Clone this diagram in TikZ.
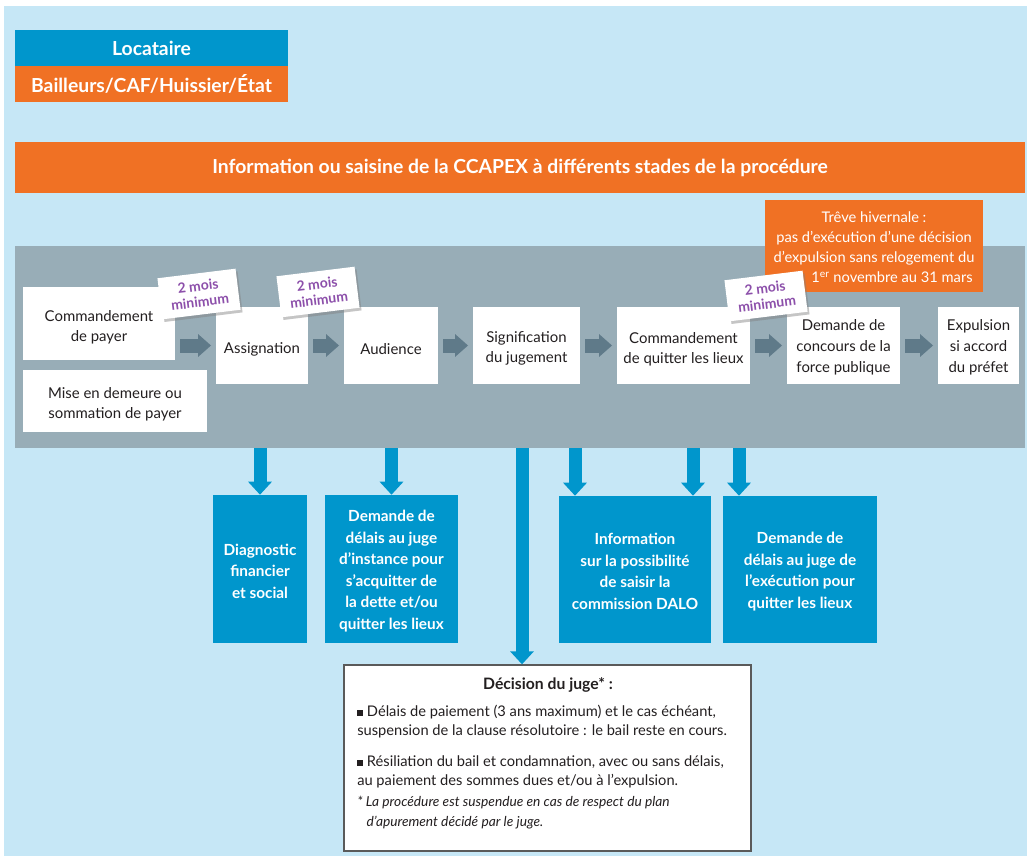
\documentclass[tikz,border=0pt]{standalone}
\usepackage{fontspec}
\setmainfont{Lato}
\usetikzlibrary{arrows.meta,fit,shadows}
\definecolor{bgblue}{HTML}{C6E7F6}
\definecolor{cblue}{HTML}{0096CC}
\definecolor{corange}{HTML}{F07124}
\definecolor{cgrey}{HTML}{98ADB7}
\definecolor{carrow}{HTML}{5F7A89}
\definecolor{cpurple}{HTML}{8C4FAA}
\definecolor{ctext}{HTML}{231F20}
\definecolor{cborder}{HTML}{5A5A5A}
\newcommand\sqbul{\rule[0.1ex]{0.8ex}{0.8ex}}
\begin{document}
\begin{tikzpicture}[x=0.75pt,y=-0.75pt,
  shape box/.style={inner sep=0pt},
  wtext/.style={inner sep=0pt, align=center, text=ctext, font=\fontsize{11.2}{15}\selectfont},
  btext/.style={inner sep=0pt, align=center, text=white, font=\bfseries\fontsize{11.5}{16.2}\selectfont},
  htext/.style={inner sep=0pt, text=white, font=\bfseries\fontsize{14.5}{14.5}\selectfont},
  garrow/.style={draw=carrow, line width=10.5pt, -{Triangle[width=16.5pt,length=9.75pt]}, shorten <=3.75pt, shorten >=3.5pt},
  barrow/.style={draw=cblue, line width=9.75pt, -{Triangle[width=17.25pt,length=9.75pt]}},
  tagbox/.style={fill=white, rotate=7, minimum width=59pt, minimum height=31pt, inner sep=0pt, align=center, text=cpurple, font=\bfseries\fontsize{10.5}{12}\selectfont, drop shadow={shadow xshift=1.5pt, shadow yshift=-2pt, opacity=0.45}},
  dtext/.style={inner sep=0pt, anchor=west, align=left, text=ctext}]
\useasboundingbox (0,0) rectangle (1027,856);
\fill[white] (0,0) rectangle (1027,856);
\fill[bgblue] (4,6) rectangle (1027,856);

% legend
\node[shape box, fill=cblue, fit={(15,30)(288,66)}] (loc) {};
\node[htext] (loc-t) at (loc.center) {Locataire};
\node[shape box, fill=corange, fit={(15,66)(288,102)}] (bail) {};
\node[htext] (bail-t) at (bail.center) {Bailleurs/CAF/Huissier/État};

% banner
\node[shape box, fill=corange, fit={(15,142)(1025,193)}] (banner) {};
\node[htext] (banner-t) at ([yshift=-0.5pt]banner.center) {Information ou saisine de la CCAPEX à différents stades de la procédure};

% grey band
\node[shape box, fill=cgrey, fit={(15,246)(1025,448)}] (band) {};

% treve
\node[shape box, fill=corange, fit={(765,200)(983,292)}] (treve) {};
\node[inner sep=0pt, align=center, text=white, font=\fontsize{11}{15}\selectfont] (treve-t) at ([yshift=-1pt]treve.center) {Trêve hivernale :\\pas d’exécution d’une décision\\d’expulsion sans relogement du\\\hspace*{27pt}1\textsuperscript{er} novembre au 31 mars};

% white boxes
\node[shape box, fill=white, fit={(23,287)(175,360)}] (cmdpay) {};
\node[wtext] (cmdpay-t) at ([yshift=-2.5pt]cmdpay.center) {Commandement\\de payer};
\node[shape box, fill=white, fit={(23,370)(207,432)}] (mise) {};
\node[wtext] (mise-t) at ([yshift=-2.5pt]mise.center) {Mise en demeure ou\\sommation de payer};
\node[shape box, fill=white, fit={(216,307)(308,384)}] (assign) {};
\node[wtext] (assign-t) at ([yshift=-3pt]assign.center) {Assignation};
\node[shape box, fill=white, fit={(344,307)(438,384)}] (aud) {};
\node[wtext] (aud-t) at ([yshift=-3pt]aud.center) {Audience};
\node[shape box, fill=white, fit={(473,307)(580,384)}] (sig) {};
\node[wtext] (sig-t) at ([yshift=-2.5pt]sig.center) {Signification\\du jugement};
\node[shape box, fill=white, fit={(617,307)(750,384)}] (cmdq) {};
\node[wtext] (cmdq-t) at ([yshift=-2.5pt]cmdq.center) {Commandement\\de quitter les lieux};
\node[shape box, fill=white, fit={(787,307)(900,384)}] (conc) {};
\node[wtext, font=\fontsize{11.2}{15.75}\selectfont] (conc-t) at ([yshift=-1.5pt]conc.center) {Demande de\\concours de la\\force publique};
\node[shape box, fill=white, fit={(938,307)(1019,384)}] (expu) {};
\node[wtext, font=\fontsize{11.2}{15.75}\selectfont] (expu-t) at ([yshift=-1.5pt]expu.center) {Expulsion\\si accord\\du préfet};

% grey arrows
\draw[garrow] (cmdpay.east |- assign.west) -- (assign.west);
\draw[garrow] (assign) -- (aud);
\draw[garrow] (aud) -- (sig);
\draw[garrow] (sig) -- (cmdq);
\draw[garrow] (cmdq) -- (conc);
\draw[garrow] (conc) -- (expu);

% blue boxes
\node[shape box, fill=cblue, fit={(213,495)(307,643)}] (diag) {};
\node[btext] (diag-t) at ([yshift=-1.5pt]diag.center) {Diagnostic\\financier\\et social};
\node[shape box, fill=cblue, fit={(325,495)(458,643)}] (delai) {};
\node[btext] (delai-t) at ([yshift=-1.5pt]delai.center) {Demande de\\délais au juge\\d’instance pour\\s’acquitter de\\la dette et/ou\\quitter les lieux};
\node[shape box, fill=cblue, fit={(559,496)(711,643)}] (info) {};
\node[btext] (info-t) at ([yshift=-1.5pt]info.center) {Information\\sur la possibilité\\de saisir la\\commission DALO};
\node[shape box, fill=cblue, fit={(723,496)(877,643)}] (delexec) {};
\node[btext] (delexec-t) at ([yshift=-1.5pt]delexec.center) {Demande de\\délais au juge de\\l’exécution pour\\quitter les lieux};

% decision box
\node[shape box, fill=white, draw=cborder, line width=1pt, fit={(344,665)(751,851)}] (dec) {};
\node[inner sep=0pt, text=ctext, font=\bfseries\fontsize{11.8}{12}\selectfont] (dtitle) at (548,685) {Décision du juge* :};
\node[dtext, font=\fontsize{11}{14.5}\selectfont] (dpara1) at (357,721.5) {\sqbul{} Délais de paiement (3 ans maximum) et le cas échéant,\\suspension de la clause résolutoire : le bail reste en cours.};
\node[dtext, font=\fontsize{11}{14.5}\selectfont] (dpara2) at (357,772) {\sqbul{} Résiliation du bail et condamnation, avec ou sans délais,\\au paiement des sommes dues et/ou à l’expulsion.};
\node[dtext, font=\itshape\fontsize{10.3}{15}\selectfont] (dnote) at (357,813) {* La procédure est suspendue en cas de respect du plan\\\hspace*{7pt}d’apurement décidé par le juge.};

% blue arrows
\coordinate (p3) at (522,448);
\coordinate (p4) at (575,448);
\coordinate (p5) at (693,448);
\coordinate (p6) at (739,448);
\draw[barrow] (diag.north |- band.south) -- (diag.north);
\draw[barrow] (delai.north |- band.south) -- (delai.north);
\draw[barrow] (p3) -- (p3 |- dec.north);
\draw[barrow] (p4) -- (p4 |- info.north);
\draw[barrow] (p5) -- (p5 |- info.north);
\draw[barrow] (p6) -- (p6 |- delexec.north);

% tags
\node[tagbox] (tag1) at (199,294) {2 mois\\minimum};
\node[tagbox] (tag2) at (318,292) {2 mois\\minimum};
\node[tagbox] (tag3) at (766,296) {2 mois\\minimum};
\end{tikzpicture}
\end{document}
